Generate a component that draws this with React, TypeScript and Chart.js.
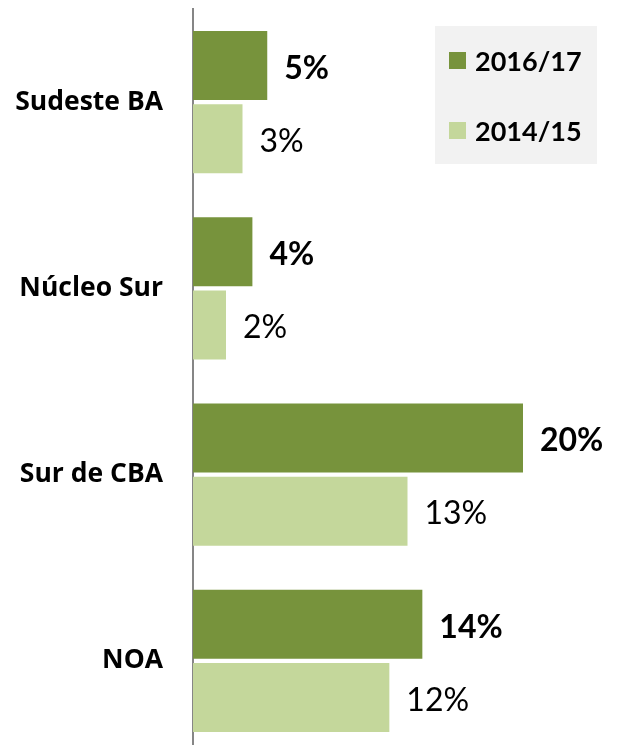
import React, { useEffect, useRef } from "react";
import { Chart, registerables } from "chart.js";

Chart.register(...registerables);

const categories = ["Sudeste BA", "Núcleo Sur", "Sur de CBA", "NOA"];
const seriesLabels = ["2016/17", "2014/15"];
const values201617 = [4.5, 3.6, 20.0, 13.9];
const values201415 = [3.0, 2.0, 13.0, 11.9];
const colors = ["#77933C", "#C4D79B"];

const FONT = "Lato, 'Open Sans', sans-serif";
const TICK_FONT = "'Open Sans', Lato, sans-serif";

const valueLabelPlugin = {
  id: "valueLabels",
  afterDatasetsDraw(chart: any) {
    const ctx = chart.ctx;
    ctx.save();
    chart.data.datasets.forEach((ds: any, di: number) => {
      const meta = chart.getDatasetMeta(di);
      ctx.font = `${di === 0 ? "bold " : ""}32px ${FONT}`;
      ctx.fillStyle = "#000";
      ctx.textAlign = "left";
      ctx.textBaseline = "middle";
      meta.data.forEach((el: any, i: number) => {
        const v = ds.data[i];
        ctx.fillText(Math.round(v) + "%", el.x + 17, el.y + 3);
      });
    });
    ctx.restore();
  },
};

const legendBoxPlugin = {
  id: "legendBox",
  afterDraw(chart: any) {
    const ctx = chart.ctx;
    ctx.save();
    ctx.fillStyle = "#F2F2F2";
    ctx.fillRect(435, 26, 162, 138);
    chart.data.datasets.forEach((ds: any, i: number) => {
      const cy = 61 + i * 70;
      ctx.fillStyle = ds.backgroundColor;
      ctx.fillRect(449, cy - 9, 17, 17);
      ctx.fillStyle = "#000";
      ctx.font = `bold 27px ${FONT}`;
      ctx.textAlign = "left";
      ctx.textBaseline = "middle";
      ctx.fillText(ds.label, 475, cy + 1);
    });
    ctx.restore();
  },
};

export default function App() {
  const ref = useRef<HTMLCanvasElement>(null);
  useEffect(() => {
    if (!ref.current) return;
    const chart = new Chart(ref.current, {
      type: "bar",
      data: {
        labels: categories,
        datasets: [
          { label: seriesLabels[0], data: values201617, backgroundColor: colors[0] },
          { label: seriesLabels[1], data: values201415, backgroundColor: colors[1] },
        ],
      },
      options: {
        indexAxis: "y",
        responsive: false,
        animation: false,
        categoryPercentage: 0.784,
        barPercentage: 0.945,
        layout: { padding: { top: 9, bottom: 2, left: 0, right: 12.5 } },
        plugins: { legend: { display: false }, tooltip: { enabled: false } },
        scales: {
          x: { display: false, min: 0, max: 25 },
          y: {
            afterFit: (s: any) => {
              s.width = 193;
              s.paddingTop = 0;
              s.paddingBottom = 0;
            },
            grid: { display: false, drawTicks: false },
            border: { display: true, color: "#868686", width: 2 },
            ticks: {
              color: "#000",
              padding: 30,
              font: { family: TICK_FONT, size: 26.5, weight: "bold" },
            },
          },
        },
      },
      plugins: [valueLabelPlugin, legendBoxPlugin],
    } as any);
    return () => chart.destroy();
  }, []);
  return (
    <div
      style={{
        position: "fixed",
        left: 0,
        top: 0,
        width: 618,
        height: 745,
        overflow: "hidden",
        background: "#fff",
      }}
    >
      <canvas ref={ref} width={618} height={756} style={{ display: "block" }} />
    </div>
  );
}
